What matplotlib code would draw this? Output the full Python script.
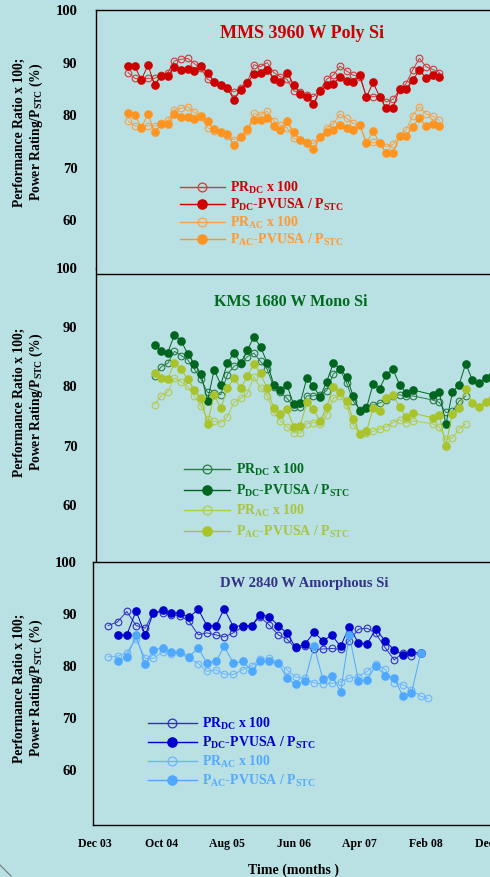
import matplotlib
matplotlib.use("Agg")
import matplotlib.pyplot as plt
from matplotlib.lines import Line2D

plt.rcParams['font.family'] = ['Liberation Serif', 'DejaVu Serif']
plt.rcParams['font.weight'] = 'bold'
plt.rcParams['mathtext.fontset'] = 'custom'
plt.rcParams['mathtext.rm'] = 'Liberation Serif:bold'
plt.rcParams['mathtext.bf'] = 'Liberation Serif:bold'
plt.rcParams['mathtext.it'] = 'Liberation Serif:bold'
plt.rcParams['mathtext.default'] = 'rm'

BG = '#b9e0e3'

# ---------------- data ----------------
TICK_MONTHS = [0, 10, 20, 30, 40, 50, 60]
TICK_LABELS = ['Dec 03', 'Oct 04', 'Aug 05', 'Jun 06', 'Apr 07', 'Feb 08', 'Dec 08']
LEGEND_LABELS = ['PR$_{DC}$ x 100', 'P$_{DC}$-PVUSA / P$_{STC}$',
                 'PR$_{AC}$ x 100', 'P$_{AC}$-PVUSA / P$_{STC}$']

# Panel 1: MMS 3960 W Poly Si (months since Dec 03)
MMS_MONTHS = list(range(5, 53))
MMS_PR_DC = [88.1, 87.0, 86.8, 87.0, 87.0, 87.6, 88.1, 90.3, 90.6, 90.8,
             89.8, 88.9, 86.8, 86.2, 85.7, 85.1, 84.4, 85.1, 86.2, 89.6,
             89.2, 90.0, 88.1, 87.3, 86.8, 84.6, 84.3, 83.8, 83.5, 84.8,
             86.8, 87.6, 89.3, 88.4, 87.6, 87.3, 83.5, 83.5, 83.5, 82.5,
             83.0, 84.8, 86.0, 88.6, 90.8, 89.2, 88.7, 88.1]
MMS_P_DC = [89.4, 89.3, 86.7, 89.5, 85.8, 87.5, 87.4, 89.1, 88.6, 88.8,
            88.4, 89.3, 88.1, 86.3, 85.7, 85.1, 82.9, 84.8, 86.1, 87.8,
            88.1, 88.6, 86.9, 86.2, 88.1, 85.8, 84.1, 83.5, 82.2, 84.6,
            85.7, 86.0, 87.2, 86.5, 86.2, 87.6, 83.4, 86.2, 83.5, 81.3,
            81.4, 85.0, 85.0, 86.7, 88.5, 87.1, 87.6, 87.3]
MMS_PR_AC = [78.9, 78.0, 77.8, 78.0, 77.9, 78.4, 79.0, 81.0, 81.3, 81.6,
             80.5, 79.6, 77.6, 77.0, 76.5, 76.0, 75.3, 76.0, 77.0, 80.3,
             80.0, 80.7, 78.9, 78.1, 77.6, 75.6, 75.2, 74.8, 74.6, 75.8,
             77.6, 78.3, 80.2, 79.4, 78.4, 78.1, 74.8, 74.8, 74.6, 74.0,
             74.4, 76.0, 77.2, 79.9, 81.6, 80.2, 79.8, 79.0]
MMS_P_AC = [80.3, 80.0, 77.6, 80.2, 76.8, 78.3, 78.3, 80.2, 79.6, 79.7,
            79.3, 79.9, 78.8, 77.3, 76.7, 76.4, 74.3, 75.9, 77.3, 79.1,
            79.1, 79.4, 77.9, 77.1, 78.8, 76.7, 75.2, 74.6, 73.6, 75.8,
            76.7, 77.1, 78.2, 77.5, 77.1, 78.2, 74.6, 77.0, 74.6, 72.7,
            72.7, 76.0, 76.1, 77.8, 79.4, 77.9, 78.3, 78.0]

# Panel 2: KMS 1680 W Mono Si
KMS_MONTHS_PV = list(range(9, 49)) + list(range(51, 61))
KMS_MONTHS_PR = list(range(9, 49)) + list(range(51, 57))
KMS_PR_DC = [81.8, 83.3, 83.9, 85.9, 85.2, 84.5, 82.9, 81.2, 79.0, 78.8,
             78.6, 82.0, 83.4, 83.8, 85.0, 85.6, 84.2, 82.9, 79.9, 79.0,
             78.0, 76.6, 76.5, 78.4, 78.4, 78.6, 79.3, 82.1, 82.9, 80.6,
             77.5, 76.1, 76.5, 76.9, 77.2, 77.7, 78.3, 78.6, 78.3, 78.4,
             77.7, 77.3, 75.6, 75.8, 77.5, 78.4]
KMS_P_DC = [87.0, 85.9, 85.7, 88.7, 87.7, 85.5, 83.8, 82.1, 77.6, 82.8,
            80.3, 83.9, 85.7, 83.9, 86.1, 88.3, 86.7, 84.0, 80.3, 79.4,
            80.2, 77.0, 77.2, 81.4, 80.0, 78.2, 80.8, 83.9, 83.0, 81.6,
            78.4, 75.8, 76.3, 80.4, 79.6, 82.0, 82.9, 80.3, 78.9, 79.4,
            78.6, 79.1, 73.6, 79.0, 80.3, 83.8, 81.1, 80.6, 81.4, 81.8]
KMS_PR_AC = [76.9, 78.4, 79.1, 81.4, 80.8, 80.0, 78.4, 76.7, 74.5, 74.1,
             73.9, 74.9, 77.3, 78.0, 78.8, 81.6, 79.7, 78.4, 75.6, 74.2,
             73.2, 72.2, 72.1, 73.7, 73.9, 73.7, 75.2, 78.0, 78.4, 76.9,
             73.5, 72.0, 72.1, 72.4, 72.8, 73.2, 73.9, 74.4, 73.8, 74.2,
             73.7, 73.2, 71.1, 71.3, 72.8, 73.7]
KMS_P_AC = [82.2, 81.4, 81.2, 84.0, 83.0, 81.2, 79.4, 78.0, 73.7, 78.6,
            76.3, 79.7, 81.4, 79.7, 81.7, 83.8, 82.2, 79.7, 76.3, 75.4,
            76.2, 73.2, 73.4, 77.3, 76.2, 74.1, 76.6, 79.9, 79.0, 77.5,
            74.5, 72.0, 72.4, 76.3, 75.8, 78.0, 78.6, 76.5, 74.9, 75.5,
            74.7, 75.2, 70.0, 75.4, 76.3, 79.5, 77.2, 76.6, 77.3, 77.9]

# Panel 3: DW 2840 W Amorphous Si
DW_MONTHS = [2.0, 3.4, 4.8, 6.2, 7.6, 8.8, 10.2, 11.5, 12.8, 14.2,
             15.6, 16.9, 18.3, 19.5, 20.9, 22.3, 23.7, 24.9, 26.3, 27.7,
             29.0, 30.3, 31.7, 33.1, 34.4, 35.8, 37.1, 38.4, 39.8, 41.1,
             42.4, 43.8, 45.2, 46.5, 47.8, 49.2, 50.3]
DW_PR_DC = [87.8, 88.5, 90.5, 87.8, 87.3, 90.4, 90.3, 89.9, 89.7, 88.6,
            86.0, 86.4, 86.0, 85.6, 86.4, 87.5, 87.8, 89.5, 87.9, 86.0,
            85.2, 83.4, 83.8, 83.2, 83.3, 83.4, 83.2, 84.9, 87.1, 87.3,
            86.3, 83.6, 81.2, 82.6, 82.0, 82.6]
DW_P_DC = [86.0, 86.0, 90.6, 86.0, 90.2, 90.8, 90.2, 90.2, 89.4, 90.9,
           87.8, 87.8, 91.0, 87.6, 87.8, 87.8, 89.9, 89.5, 87.8, 86.3,
           83.6, 84.2, 86.5, 84.9, 85.9, 83.8, 87.6, 84.4, 84.3, 87.1,
           84.9, 83.1, 82.2, 82.7, 82.5]
DW_PR_AC = [81.8, 81.9, 82.6, 85.2, 81.5, 81.5, 82.7, 82.3, 82.5, 81.5,
            80.5, 79.0, 79.3, 78.5, 78.4, 79.3, 80.1, 81.3, 81.5, 80.7,
            79.3, 77.9, 77.7, 76.8, 76.6, 76.7, 77.0, 77.7, 78.0, 79.0,
            80.4, 79.4, 76.8, 76.4, 75.5, 74.2, 73.8]
DW_P_AC = [80.9, 81.7, 85.9, 80.4, 83.1, 83.5, 82.7, 82.8, 81.8, 83.5,
           80.6, 80.9, 83.8, 80.6, 80.9, 79.1, 81.0, 80.9, 80.6, 77.7,
           76.5, 77.2, 83.8, 77.6, 78.2, 75.1, 86.0, 77.2, 77.4, 80.1,
           78.2, 77.8, 74.2, 74.8, 82.5]

# ---------------- figure ----------------
W, H = 490, 877
fig = plt.figure(figsize=(W / 100, H / 100), dpi=100, facecolor=BG)

PX_PER_MONTH = 6.62
X0_PX = 95.0


def make_axes(left, top, bottom, right=493):
    ax = fig.add_axes([left / W, 1 - bottom / H, (right - left) / W, (bottom - top) / H])
    ax.set_facecolor(BG)
    ax.set_xlim((left - X0_PX) / PX_PER_MONTH, (right - X0_PX) / PX_PER_MONTH)
    for s in ax.spines.values():
        s.set_linewidth(1.0)
        s.set_color('black')
    ax.spines['right'].set_visible(False)
    ax.tick_params(axis='both', length=0)
    return ax


def plot_panel(ax, series, colors, ms_fill=5.2, ms_open=4.8):
    (x_prdc, prdc), (x_pdc, pdc), (x_prac, prac), (x_pac, pac) = series
    c_prdc, c_pdc, c_prac, c_pac = colors
    h1, = ax.plot(x_prdc, prdc, '-o', color=c_prdc, lw=0.7, ms=ms_open,
                  mfc='none', mec=c_prdc, mew=0.8)
    h2, = ax.plot(x_pdc, pdc, '-o', color=c_pdc, lw=0.7, ms=ms_fill,
                  mfc=c_pdc, mec=c_pdc)
    h3, = ax.plot(x_prac, prac, '-o', color=c_prac, lw=0.7, ms=ms_open,
                  mfc='none', mec=c_prac, mew=0.8)
    h4, = ax.plot(x_pac, pac, '-o', color=c_pac, lw=0.7, ms=ms_fill,
                  mfc=c_pac, mec=c_pac)
    return [h1, h2, h3, h4]


def add_legend(ax, handles, text_colors, anchor, spacing, hlen):
    lh = []
    for h in handles:
        lh.append(Line2D([], [], color=h.get_color(), lw=1.0, marker='o',
                         ms=h.get_markersize() + 1.5, mfc=h.get_markerfacecolor(),
                         mec=h.get_markeredgecolor(), mew=0.9))
    leg = ax.legend(lh, LEGEND_LABELS, loc='upper left', bbox_to_anchor=anchor,
                    frameon=False, borderpad=0, borderaxespad=0,
                    handlelength=hlen, handletextpad=0.4, labelspacing=spacing,
                    prop={'family': 'Liberation Serif', 'weight': 'bold', 'size': 10})
    for t, c in zip(leg.get_texts(), text_colors):
        t.set_color(c)
    return leg


def ytick_setup(ax, ticks, pad):
    ax.set_yticks(ticks)
    ax.set_yticklabels([str(t) for t in ticks], fontsize=10.5, fontweight='bold')
    ax.tick_params(axis='y', pad=pad)


# Panel 1
ax1 = make_axes(96, 10, 269)
ax1.set_ylim(50.7, 100)
ax1.spines['bottom'].set_visible(False)
ax1.set_xticks([])
ytick_setup(ax1, [100, 90, 80, 70, 60], 13.5)
c1 = ['#d23a3a', '#cc0000', '#f7a24a', '#ff9520']
h = plot_panel(ax1, [(MMS_MONTHS, MMS_PR_DC), (MMS_MONTHS, MMS_P_DC),
                     (MMS_MONTHS, MMS_PR_AC), (MMS_MONTHS, MMS_P_AC)], c1)
ax1.text(0.519, 0.911, 'MMS 3960 W Poly Si', transform=ax1.transAxes,
         ha='center', va='center', color='#cc0000', fontsize=13, fontweight='bold')
add_legend(ax1, h, ['#cc0000', '#cc0000', '#ff9933', '#ff9933'], (0.212, 0.345), 0.1, 3.2)

# Panel 2
ax2 = make_axes(96, 267.7, 562)
ax2.set_ylim(50.4, 100)
ax2.spines['top'].set_visible(False)
ax2.spines['bottom'].set_visible(False)
ax2.axhline(99.0, color='black', lw=1.0)
ax2.set_xticks([])
ytick_setup(ax2, [100, 90, 80, 70, 60], 13.5)
c2 = ['#2a7a45', '#00661f', '#b4cb4c', '#a9c32a']
h = plot_panel(ax2, [(KMS_MONTHS_PR, KMS_PR_DC), (KMS_MONTHS_PV, KMS_P_DC),
                     (KMS_MONTHS_PR, KMS_PR_AC), (KMS_MONTHS_PV, KMS_P_AC)], c2)
ax2.text(0.491, 0.883, 'KMS 1680 W Mono Si', transform=ax2.transAxes,
         ha='center', va='center', color='#006b1e', fontsize=11.5, fontweight='bold')
add_legend(ax2, h, ['#006b1e', '#006b1e', '#a8c440', '#a8c440'], (0.222, 0.34), 0.32, 3.3)

# Panel 3
ax3 = make_axes(93, 562, 825)
ax3.set_ylim(49.5, 100)
ytick_setup(ax3, [100, 90, 80, 70, 60], 11.5)
ax3.set_xticks(TICK_MONTHS)
ax3.set_xticklabels(TICK_LABELS, fontsize=8.5, fontweight='bold')
ax3.tick_params(axis='x', pad=9.5)
c3 = ['#3030c8', '#0000cc', '#6cb6ff', '#4fa8ff']
h = plot_panel(ax3, [(DW_MONTHS[:36], DW_PR_DC), (DW_MONTHS[1:36], DW_P_DC),
                     (DW_MONTHS, DW_PR_AC), (DW_MONTHS[1:36], DW_P_AC)], c3)
ax3.text(0.5275, 0.92, 'DW 2840 W Amorphous Si', transform=ax3.transAxes,
         ha='center', va='center', color='#333388', fontsize=10.5, fontweight='bold')
add_legend(ax3, h, ['#0000cc', '#0000cc', '#55aaff', '#55aaff'], (0.1375, 0.415), 0.2, 3.5)

# y labels
for yc in (132, 402, 688):
    fig.text(29 / W, 1 - yc / H, 'Performance Ratio x 100;\nPower Rating/P$_{STC}$ (%)',
             rotation=90, ha='center', va='center', fontsize=9.8, fontweight='bold',
             linespacing=1.15, multialignment='center')

fig.text(294 / W, 1 - 870 / H, 'Time (months )', ha='center', va='center',
         fontsize=10, fontweight='bold')

fig.add_artist(Line2D([0, 11 / W], [1 - 865 / H, 1 - 876 / H], color='#777777', lw=0.8,
                      transform=fig.transFigure))

fig.savefig('out.png', dpi=100, facecolor=BG)
